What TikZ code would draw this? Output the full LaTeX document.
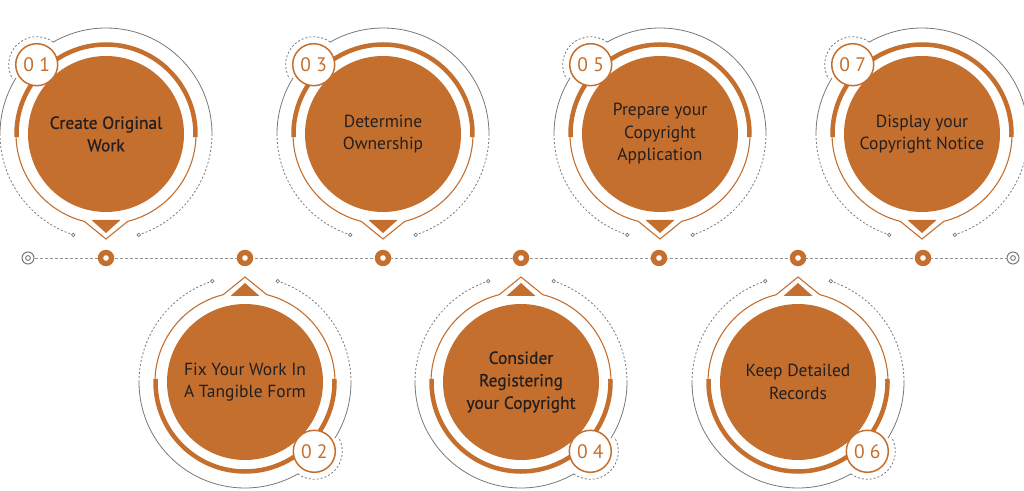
\documentclass[tikz,border=0pt]{standalone}
\usepackage{fontspec}
\setmainfont{PT Sans}
\newfontfamily\semifont{PT Sans}[FakeBold=0.6]
\definecolor{brand}{RGB}{196,111,46}
\definecolor{ringgray}{RGB}{120,120,120}
\definecolor{txtc}{RGB}{35,31,32}
\tikzset{
  mainc/.style={circle, fill=brand, minimum size=156pt, inner sep=0pt, align=center,
    text=txtc, font=\fontsize{17.5}{22.5}\selectfont},
  thickarc/.style={draw=brand, line width=4.5pt},
  thinarc/.style={draw=brand, line width=1.1pt, line join=miter},
  grayarc/.style={draw=ringgray, line width=0.8pt},
  graydash/.style={grayarc, dash pattern=on 2pt off 2pt},
  badgec/.style={circle, draw=brand, line width=1.5pt, fill=white, minimum size=42pt,
    inner sep=0pt, text=brand, font=\fontsize{19.5}{20}\selectfont},
  enddotc/.style={circle, draw=ringgray, line width=0.7pt, fill=white, minimum size=3.6pt, inner sep=0pt},
  tldot/.style={circle, fill=brand, minimum size=16.5pt, inner sep=0pt},
  tlend/.style={circle, draw=ringgray, line width=1pt, fill=white, minimum size=12pt, inner sep=0pt},
  tldash/.style={draw=ringgray!80, line width=0.9pt, dash pattern=on 3pt off 2pt},
}
\newcommand\stepcirc[6]{%
\begin{scope}[shift={(#2,#3)}, rotate=#4]
  \draw[thickarc] (-2:89.5pt) arc[start angle=-2, end angle=182, radius=89.5pt];
  \draw[thinarc] (180:90pt) arc[start angle=180, end angle=256, radius=90pt]
     -- (0,-105) -- (284:90pt) arc[start angle=284, end angle=360, radius=90pt];
  \fill[brand] (-14.5,-86) -- (14.5,-86) -- (0,-99) -- cycle;
  \draw[grayarc] (0:106pt) arc[start angle=0, end angle=120, radius=106pt];
  \draw[grayarc] (148:106pt) arc[start angle=148, end angle=180, radius=106pt];
  \draw[graydash] (180:106pt) arc[start angle=180, end angle=252, radius=106pt];
  \draw[graydash] (0:106pt) arc[start angle=0, end angle=-72, radius=106pt];
  \node[enddotc] (ea#1) at (252:106pt) {};
  \node[enddotc] (eb#1) at (-72:106pt) {};
  \node[mainc] (m#1) at (0,0) {#6};
  \node[badgec] (b#1) at (135:98pt) {#5};
  \draw[graydash] (b#1.center) ++(54:28pt) arc[start angle=54, end angle=210, radius=28pt];
\end{scope}}
\begin{document}
\begin{tikzpicture}[x=1pt, y=1pt]
\useasboundingbox (0,0) rectangle (1024,490);
% timeline
\node[tlend] (eL) at (28,232) {};
\node[tlend] (eR) at (1013,232) {};
\draw[tldash] (eL) -- (eR);
\draw[ringgray, line width=0.9pt] (eL.center) circle (2.4pt);
\draw[ringgray, line width=0.9pt] (eR.center) circle (2.4pt);
\foreach \i/\x in {1/106, 2/245, 3/383, 4/521, 5/659, 6/798, 7/923}{
  \node[tldot] (d\i) at (\x,232) {};
  \fill[white] (d\i.center) circle (2.8pt);
}
% steps
\stepcirc{1}{106}{356}{0}{0 1}{{\semifont Create Original}\\{\semifont Work}}
\stepcirc{3}{383}{356}{0}{0 3}{Determine\\Ownership}
\stepcirc{5}{660}{356}{0}{0 5}{Prepare your\\Copyright\\Application}
\stepcirc{7}{922}{356}{0}{0 7}{Display your\\Copyright Notice}
\stepcirc{2}{245}{108}{180}{0 2}{Fix Your Work In\\A Tangible Form}
\stepcirc{4}{521}{108}{180}{0 4}{{\semifont Consider}\\{\semifont Registering}\\{\semifont your Copyright}}
\stepcirc{6}{798}{108}{180}{0 6}{Keep Detailed\\Records}
\end{tikzpicture}
\end{document}
